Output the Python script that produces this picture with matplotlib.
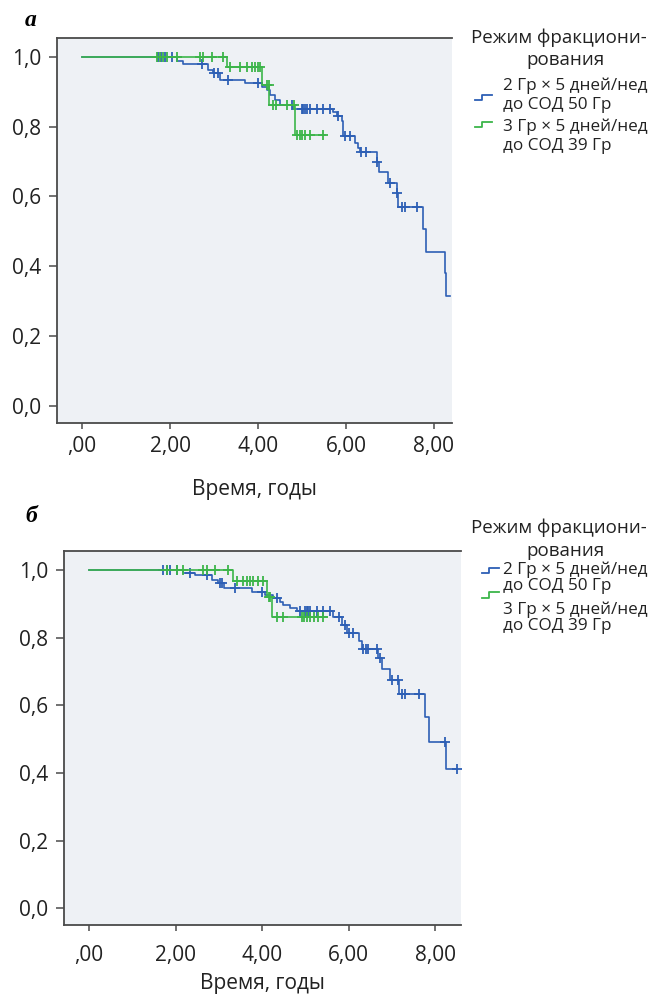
import numpy as np
import matplotlib
matplotlib.use("Agg")
import matplotlib.pyplot as plt
from matplotlib.lines import Line2D

plt.rcParams['font.family'] = ['Open Sans', 'DejaVu Sans']

# ---- panel а: step times / survival after step, censor times, end time ----
a_blue_t = [2.15, 2.30, 2.86, 2.98, 3.13, 3.71, 4.09, 4.20, 4.27, 4.39, 4.50, 4.80,
            5.71, 5.79, 5.90, 5.93, 6.20, 6.27, 6.32, 6.70, 6.76, 6.96, 7.15, 7.19,
            7.76, 7.81, 8.24, 8.27]
a_blue_s = [0.987, 0.979, 0.963, 0.954, 0.934, 0.925, 0.915, 0.905, 0.891, 0.877, 0.862, 0.851,
            0.843, 0.831, 0.815, 0.772, 0.754, 0.740, 0.728, 0.700, 0.669, 0.640, 0.609, 0.569,
            0.506, 0.442, 0.380, 0.316]
a_blue_cens = [1.73, 1.80, 1.89, 2.05, 2.72, 3.00, 3.08, 3.32, 4.00, 4.77, 5.00, 5.03, 5.07,
               5.11, 5.18, 5.34, 5.48, 5.64, 5.82, 5.98, 6.09, 6.35, 6.45, 6.70, 7.00,
               7.17, 7.27, 7.34, 7.61]
a_blue_end = 8.36

a_green_t = [3.30, 4.10, 4.26, 4.84]
a_green_s = [0.970, 0.920, 0.861, 0.775]
a_green_cens = [1.70, 1.77, 1.85, 1.92, 2.15, 2.68, 2.75, 2.95, 3.20, 3.36, 3.59, 3.74,
                3.86, 3.93, 4.00, 4.05, 4.20, 4.24, 4.35, 4.42, 4.65, 4.82, 4.88, 4.95,
                4.99, 5.07, 5.18, 5.48]
a_green_end = 5.52

# ---- panel б ----
b_blue_t = [2.18, 2.45, 2.84, 2.99, 3.11, 3.76, 4.07, 4.26, 4.42, 4.49, 4.65, 4.80,
            5.65, 5.84, 5.96, 6.23, 6.31, 6.69, 6.77, 6.96, 7.17, 7.77, 7.85, 8.25]
b_blue_s = [0.990, 0.985, 0.970, 0.961, 0.946, 0.936, 0.926, 0.917, 0.906, 0.897, 0.889, 0.880,
            0.860, 0.837, 0.813, 0.791, 0.766, 0.739, 0.706, 0.675, 0.633, 0.565, 0.492, 0.411]
b_blue_cens = [1.72, 1.80, 1.87, 2.03, 2.34, 2.72, 3.03, 3.07, 3.38, 3.99, 4.34, 4.88,
               5.00, 5.03, 5.07, 5.11, 5.26, 5.42, 5.57, 5.78, 5.92, 6.00, 6.11, 6.34,
               6.40, 6.46, 6.65, 6.73, 7.00, 7.15, 7.23, 7.31, 7.64, 8.23, 8.50]
b_blue_end = 8.50

b_green_t = [3.32, 4.11, 4.22]
b_green_s = [0.968, 0.921, 0.862]
b_green_cens = [1.80, 2.03, 2.18, 2.64, 2.72, 2.91, 3.22, 3.42, 3.57, 3.65, 3.72, 3.80,
                3.91, 4.03, 4.15, 4.18, 4.34, 4.49, 4.92, 4.96, 5.03, 5.11, 5.19, 5.30, 5.40]
b_green_end = 5.50

y_ticks = [0.0, 0.2, 0.4, 0.6, 0.8, 1.0]
y_labels = ["0,0", "0,2", "0,4", "0,6", "0,8", "1,0"]
x_ticks = [0, 2, 4, 6, 8]
x_labels = [",00", "2,00", "4,00", "6,00", "8,00"]
xlabel = "Время, годы"
legend_title = ["Режим фракциони-", "рования"]
legend_items = ["2 Гр × 5 дней/нед\nдо СОД 50 Гр", "3 Гр × 5 дней/нед\nдо СОД 39 Гр"]

BLUE = "#2d5fb5"
GREEN = "#3cb54a"
BG = "#eef1f5"
SPINE = "#4a4a4a"
TXT = "#222222"


def draw_km(ax, times, surv, cens, end, color):
    xs = np.concatenate([[0.0], times, [end]])
    ys = np.concatenate([[1.0], surv, [surv[-1]]])
    ax.step(xs, ys, where="post", color=color, lw=1.2)
    idx = np.searchsorted(np.asarray(times), np.asarray(cens), side="right")
    cy = np.concatenate([[1.0], surv])[idx]
    ax.plot(cens, cy, ls="none", marker="+", ms=6.5, mew=1.3, color=color)


def style_axes(ax, xlim, ylim, xpad, lpad):
    ax.set_facecolor(BG)
    ax.set_xlim(*xlim)
    ax.set_ylim(*ylim)
    ax.spines["right"].set_visible(False)
    for s in ("left", "top", "bottom"):
        ax.spines[s].set_color(SPINE)
        ax.spines[s].set_linewidth(1.3)
    ax.set_yticks(y_ticks, y_labels)
    ax.set_xticks(x_ticks, x_labels)
    ax.tick_params(axis="y", length=5.5, width=1.1, color=SPINE, pad=6, labelsize=15,
                   labelcolor=TXT)
    ax.tick_params(axis="x", length=4.5, width=1.1, color=SPINE, pad=xpad, labelsize=15,
                   labelcolor=TXT)
    ax.set_xlabel(xlabel, fontsize=15, color=TXT, labelpad=lpad)


def draw_legend(fig, ys, hx, hys, line_gap):
    # ys: title line1, title line2, item1 line1, item2 line1 (pixels from top)
    W, H = 650.0, 996.0
    fig.text(471 / W, 1 - ys[0] / H, legend_title[0], fontsize=13.5, va="center", ha="left",
             color=TXT)
    fig.text(566 / W, 1 - ys[1] / H, legend_title[1], fontsize=13.5, va="center", ha="center",
             color=TXT)
    for i, (label, color) in enumerate(zip(legend_items, [BLUE, GREEN])):
        l1, l2 = label.split("\n")
        fig.text(503 / W, 1 - ys[2 + i] / H, l1, fontsize=12.3, va="center", ha="left",
                 color=TXT)
        fig.text(503 / W, 1 - (ys[2 + i] + line_gap) / H, l2, fontsize=12.3, va="center",
                 ha="left", color=TXT)
        hy = hys[i]
        px = np.array([hx, hx + 7, hx + 7, hx + 17])
        py = np.array([hy + 2.5, hy + 2.5, hy - 2.5, hy - 2.5])
        fig.add_artist(Line2D(px / W, 1 - py / H, color=color, lw=1.3))


fig = plt.figure(figsize=(6.5, 9.96), dpi=100)

ax_a = fig.add_axes([57 / 650, 1 - 423 / 996, 395 / 650, 385 / 996])
style_axes(ax_a, (-0.57, 8.41), (-0.049, 1.054), 5, 16)
draw_km(ax_a, a_blue_t, a_blue_s, a_blue_cens, a_blue_end, BLUE)
draw_km(ax_a, a_green_t, a_green_s, a_green_cens, a_green_end, GREEN)

ax_b = fig.add_axes([64 / 650, 1 - 925 / 996, 397 / 650, 374 / 996])
style_axes(ax_b, (-0.58, 8.60), (-0.049, 1.056), 10, 5)
draw_km(ax_b, b_blue_t, b_blue_s, b_blue_cens, b_blue_end, BLUE)
draw_km(ax_b, b_green_t, b_green_s, b_green_cens, b_green_end, GREEN)

fig.text(31 / 650, 1 - 20 / 996, "а", fontsize=17, fontweight="bold", fontstyle="italic",
         family="Liberation Serif", ha="center", va="center")
fig.text(31 / 650, 1 - 517 / 996, "б", fontsize=17, fontweight="bold", fontstyle="italic",
         family="Liberation Serif", ha="center", va="center")

draw_legend(fig, [38, 60, 86, 127], 475, [98, 125], 19)
draw_legend(fig, [528, 551, 570, 610], 482, [570, 595], 16)

fig.savefig("out.png", dpi=100)
